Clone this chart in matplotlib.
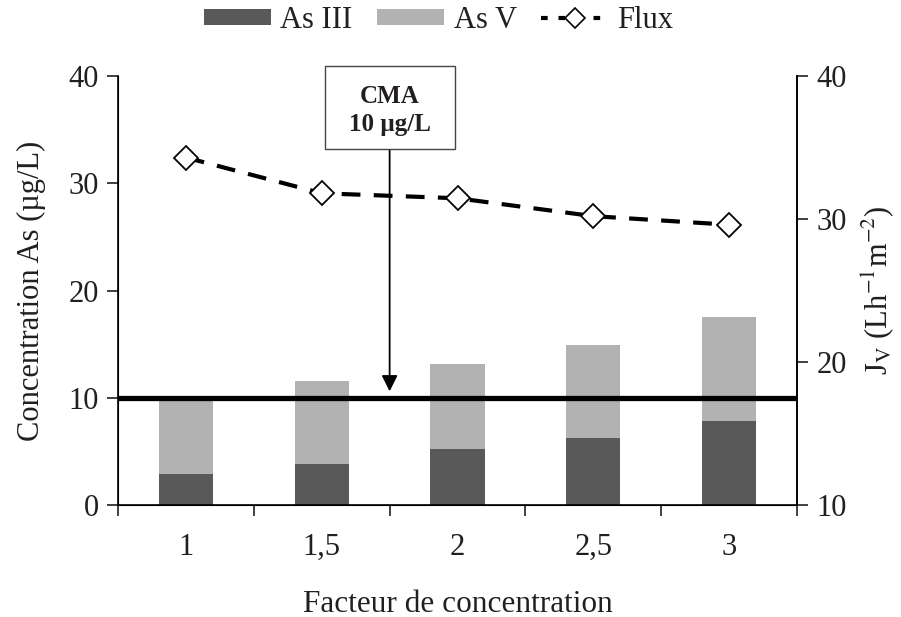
import numpy as np
import matplotlib
matplotlib.use('Agg')
import matplotlib.pyplot as plt
from matplotlib.patches import Patch, Rectangle
from matplotlib.lines import Line2D

plt.rcParams['font.family'] = ['Liberation Serif', 'DejaVu Serif']
plt.rcParams['mathtext.fontset'] = 'stix'
plt.rcParams['text.color'] = '#231f20'
plt.rcParams['xtick.color'] = '#231f20'
plt.rcParams['ytick.color'] = '#231f20'
plt.rcParams['axes.labelcolor'] = '#231f20'

# Données
facteurs = ['1', '1,5', '2', '2,5', '3']
as_iii = [2.85, 3.8, 5.25, 6.25, 7.85]
as_total = [9.9, 11.55, 13.15, 14.9, 17.55]
as_v = [t - a for t, a in zip(as_total, as_iii)]
flux = [34.3, 31.8, 31.45, 30.2, 29.6]
cma = 10

x = np.arange(len(facteurs))
fs = 22

fig = plt.figure(figsize=(9.01, 6.17), dpi=100)
ax = fig.add_axes([0.131, 0.1815, 0.7536, 0.6953])

ax.bar(x, as_iii, width=0.4, color='#595959', zorder=2)
ax.bar(x, as_v, width=0.4, bottom=as_iii, color='#b2b2b2', zorder=2)
ax.axhline(cma, color='black', lw=3.8, zorder=3)

ax.set_xlim(-0.5, len(facteurs) - 0.5)
ax.set_ylim(0, 40)
ax.set_yticks([0, 10, 20, 30, 40])
ax.set_xticks(x)
ax.set_xticklabels(facteurs)
ax.set_xticks(np.arange(-0.5, len(facteurs), 1.0), minor=True)
ax.tick_params(axis='x', which='major', length=0, pad=20, labelsize=fs)
ax.tick_params(axis='x', which='minor', length=8, width=1.2, direction='out')
ax.tick_params(axis='y', length=8, width=1.2, direction='out', labelsize=fs, pad=6)
ax.spines['top'].set_visible(False)
for s in ['left', 'bottom', 'right']:
    ax.spines[s].set_linewidth(1.2)
ax.set_ylabel('Concentration As (µg/L)', fontsize=fs, labelpad=16)
ax.set_xlabel('Facteur de concentration', fontsize=fs + 0.5, labelpad=20)

ax2 = ax.twinx()
ax2.plot(x, flux, color='black', ls=(0, (4.5, 3.2)), lw=3, marker='D', ms=12.5,
         mfc='white', mec='black', mew=1.3, zorder=4)
ax2.set_ylim(10, 40)
ax2.set_yticks([10, 20, 30, 40])
ax2.tick_params(axis='y', length=8, width=1.2, direction='out', labelsize=fs, pad=6)
ax2.spines['top'].set_visible(False)
ax2.spines['right'].set_linewidth(1.2)
ax2.set_ylabel(r'J$_\mathrm{V}$ (Lh$^{\mathrm{-1}}$m$^{\mathrm{-2}}$)', fontsize=fs, labelpad=9)

# Encadré CMA avec flèche
ax.add_patch(Rectangle((1.024, 33.2), 0.958, 7.72, fc='white', ec='#444444', lw=1.0,
                       clip_on=False, zorder=6))
ax.text(1.5, 36.8, 'CMA\n10 µg/L', ha='center', va='center', fontsize=18,
        fontweight='bold', linespacing=1.3, clip_on=False, zorder=7)
ax.annotate('', xy=(1.5, 10.6), xytext=(1.5, 33.2),
            arrowprops=dict(arrowstyle='-|>', color='black', lw=1.3, mutation_scale=24,
                            shrinkA=0, shrinkB=0),
            zorder=5)

handles = [Patch(facecolor='#595959', label='As III'),
           Patch(facecolor='#b2b2b2', label='As V'),
           Line2D([0], [0], color='black', ls=(0, (1.6, 2.6)), lw=3, marker='D', ms=10,
                  mfc='white', mec='black', mew=1.2, label='Flux')]
fig.legend(handles=handles, loc='upper center', bbox_to_anchor=(0.487, 1.035), ncol=3,
           frameon=False, fontsize=fs, handlelength=2.2, handleheight=0.45,
           columnspacing=0.8, handletextpad=0.3)

fig.savefig('out.png', dpi=100)
